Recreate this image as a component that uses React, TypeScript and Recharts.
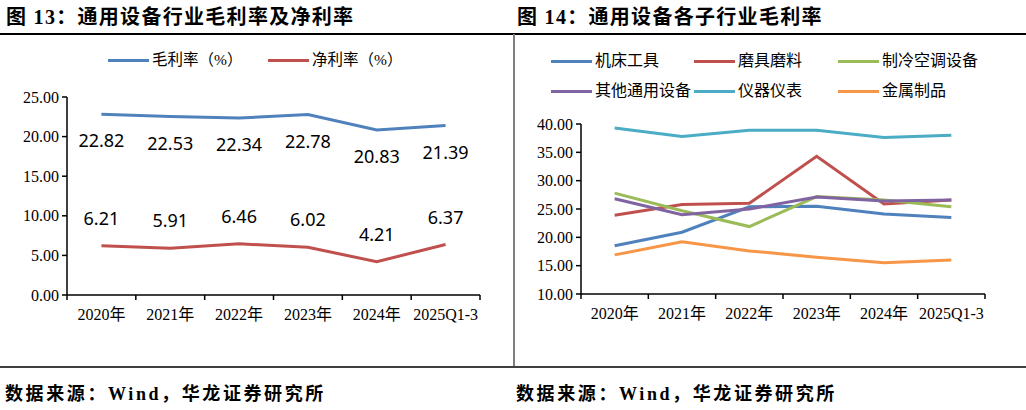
import React from 'react';
import { LineChart, Line, XAxis, YAxis, LabelList } from 'recharts';

const years = ['2020年', '2021年', '2022年', '2023年', '2024年', '2025Q1-3'];

// 图13
const grossMargin = [22.82, 22.53, 22.34, 22.78, 20.83, 21.39];
const netMargin = [6.21, 5.91, 6.46, 6.02, 4.21, 6.37];
const leftTicks = [0, 5, 10, 15, 20, 25];

// 图14
const machineTools = [18.5, 20.9, 25.4, 25.5, 24.1, 23.5];
const abrasives = [23.9, 25.8, 26.0, 34.3, 25.9, 26.6];
const hvac = [27.8, 24.7, 21.9, 27.2, 26.6, 25.4];
const otherGeneral = [26.8, 24.0, 25.0, 27.1, 26.4, 26.6];
const instruments = [39.3, 37.8, 38.9, 38.9, 37.6, 38.0];
const metalProducts = [16.9, 19.2, 17.6, 16.5, 15.5, 16.0];
const rightTicks = [10, 15, 20, 25, 30, 35, 40];

const leftData = years.map((y, i) => ({ year: y, gross: grossMargin[i], net: netMargin[i] }));
const rightData = years.map((y, i) => ({
  year: y,
  s1: machineTools[i],
  s2: abrasives[i],
  s3: hvac[i],
  s4: otherGeneral[i],
  s5: instruments[i],
  s6: metalProducts[i],
}));

const rightSeries = [
  { key: 's1', name: '机床工具', color: '#4F81BD' },
  { key: 's2', name: '磨具磨料', color: '#C0504D' },
  { key: 's3', name: '制冷空调设备', color: '#9BBB59' },
  { key: 's4', name: '其他通用设备', color: '#8064A2' },
  { key: 's5', name: '仪器仪表', color: '#4BACC6' },
  { key: 's6', name: '金属制品', color: '#F79646' },
];

const serif = '"Liberation Serif", "Noto Sans CJK SC", serif';

const makeXTick = (half: number, count: number) => (props: any) => {
  const { x, y, payload, index } = props;
  return (
    <g>
      <line x1={x - half} y1={y} x2={x - half} y2={y + 5} stroke="#000" strokeWidth={1.5} />
      {index === count - 1 && (
        <line x1={x + half} y1={y} x2={x + half} y2={y + 5} stroke="#000" strokeWidth={1.5} />
      )}
      <text x={x} y={y + 25} textAnchor="middle" fontSize={16} fontFamily={serif} fill="#000">
        {payload.value}
      </text>
    </g>
  );
};

const labelBelow = (props: any) => (
  <text x={props.x} y={props.y + 33} textAnchor="middle" fontSize={18} fontFamily='"Noto Sans", sans-serif' fill="#000">
    {Number(props.value).toFixed(2)}
  </text>
);

const labelAbove = (props: any) => (
  <text x={props.x} y={props.y - 21} textAnchor="middle" fontSize={18} fontFamily='"Noto Sans", sans-serif' fill="#000">
    {Number(props.value).toFixed(2)}
  </text>
);

const LegendItem = ({ left, top, color, text, size }: any) => (
  <div style={{ position: 'absolute', left, top, display: 'flex', alignItems: 'center', whiteSpace: 'nowrap' }}>
    <span style={{ display: 'inline-block', width: 41, height: 3, background: color, marginRight: 3 }} />
    <span style={{ fontSize: size, fontFamily: serif, color: '#000', lineHeight: '20px' }}>{text}</span>
  </div>
);

const tickStyle = { fontSize: 16, fontFamily: serif, fill: '#000' };

export default function App() {
  const leftHalf = (480 - 67) / 12;
  const rightHalf = (985 - 581) / 12;
  return (
    <div style={{ position: 'absolute', left: 0, top: 0, width: 1026, height: 410, background: '#fff', overflow: 'hidden' }}>
      <div style={{ position: 'absolute', left: 6, top: 1, fontSize: 20, fontWeight: 'bold', fontFamily: serif, letterSpacing: 1.3 }}>
        图 13：通用设备行业毛利率及净利率
      </div>
      <div style={{ position: 'absolute', left: 517, top: 1, fontSize: 20, fontWeight: 'bold', fontFamily: serif, letterSpacing: 1.3 }}>
        图 14：通用设备各子行业毛利率
      </div>
      <div style={{ position: 'absolute', left: 0, top: 33, width: 1026, height: 2, background: '#000' }} />
      <div style={{ position: 'absolute', left: 513, top: 34, width: 2, height: 332, background: '#7f7f7f' }} />
      <div style={{ position: 'absolute', left: 0, top: 366, width: 1026, height: 1.5, background: '#404040' }} />

      <LegendItem left={108} top={50} color="#4F81BD" text="毛利率（%）" size={15.5} />
      <LegendItem left={268} top={50} color="#C0504D" text="净利率（%）" size={15.5} />

      {rightSeries.map((s, i) => (
        <LegendItem
          key={s.key}
          left={[551, 694, 838][i % 3]}
          top={i < 3 ? 51 : 81}
          color={s.color}
          text={s.name}
          size={16}
        />
      ))}

      <div style={{ position: 'absolute', left: 0, top: 0 }}>
        <LineChart width={512} height={340} data={leftData} margin={{ top: 97, right: 32, left: 0, bottom: 0 }}>
          <XAxis
            dataKey="year"
            height={45}
            padding={{ left: leftHalf, right: leftHalf }}
            tickSize={0}
            tickMargin={0}
            tickLine={false}
            axisLine={{ stroke: '#000', strokeWidth: 1.5 }}
            tick={makeXTick(leftHalf, years.length)}
            interval={0}
          />
          <YAxis
            width={67}
            domain={[0, 25]}
            ticks={leftTicks}
            tickFormatter={(v: number) => v.toFixed(2)}
            tickSize={5}
            tickMargin={3}
            tick={tickStyle}
            tickLine={{ stroke: '#000', strokeWidth: 1.5 }}
            axisLine={{ stroke: '#000', strokeWidth: 1.5 }}
          />
          <Line dataKey="gross" stroke="#4F81BD" strokeWidth={3} dot={false} isAnimationActive={false}>
            <LabelList dataKey="gross" content={labelBelow} />
          </Line>
          <Line dataKey="net" stroke="#C0504D" strokeWidth={3} dot={false} isAnimationActive={false}>
            <LabelList dataKey="net" content={labelAbove} />
          </Line>
        </LineChart>
      </div>

      <div style={{ position: 'absolute', left: 512, top: 0 }}>
        <LineChart width={514} height={340} data={rightData} margin={{ top: 124, right: 41, left: 0, bottom: 0 }}>
          <XAxis
            dataKey="year"
            height={46}
            padding={{ left: rightHalf, right: rightHalf }}
            tickSize={0}
            tickMargin={0}
            tickLine={false}
            axisLine={{ stroke: '#000', strokeWidth: 1.5 }}
            tick={makeXTick(rightHalf, years.length)}
            interval={0}
          />
          <YAxis
            width={69}
            domain={[10, 40]}
            ticks={rightTicks}
            tickFormatter={(v: number) => v.toFixed(2)}
            tickSize={5}
            tickMargin={3}
            tick={tickStyle}
            tickLine={{ stroke: '#000', strokeWidth: 1.5 }}
            axisLine={{ stroke: '#000', strokeWidth: 1.5 }}
          />
          {rightSeries.map((s) => (
            <Line key={s.key} dataKey={s.key} stroke={s.color} strokeWidth={3} dot={false} isAnimationActive={false} />
          ))}
        </LineChart>
      </div>

      <div style={{ position: 'absolute', left: 5, top: 379, fontSize: 18, fontWeight: 'bold', fontFamily: serif, letterSpacing: 2.6 }}>
        数据来源：Wind，华龙证券研究所
      </div>
      <div style={{ position: 'absolute', left: 516, top: 379, fontSize: 18, fontWeight: 'bold', fontFamily: serif, letterSpacing: 2.6 }}>
        数据来源：Wind，华龙证券研究所
      </div>
    </div>
  );
}
